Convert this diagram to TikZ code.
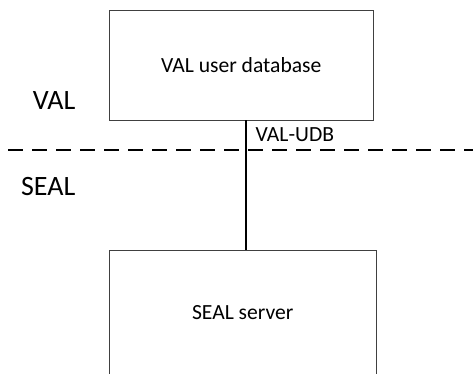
\documentclass[tikz,border=0pt]{standalone}
\usepackage{fontspec}
\setmainfont{Carlito}
\usetikzlibrary{positioning, calc}

\begin{document}
\begin{tikzpicture}[x=1pt, y=-1pt,
    box/.style={draw=black!75, line width=0.9pt, inner sep=0pt, font=\fontsize{21.6}{25}\selectfont},
    zone/.style={font=\fontsize{28}{32}\selectfont, anchor=east, inner sep=0pt}]
\useasboundingbox (0, 0) rectangle (473, 374);

\node [box, minimum width=263.5pt, minimum height=110pt] (udb) at (241.25, 65) {VAL user database};
\node [box, minimum width=266.5pt, minimum height=126pt] (server) at (242.75, 313) {SEAL server};

\node [zone] (val) at (75.5, 101) {VAL};
\node [zone] (seal) at (75.5, 187) {SEAL};

\coordinate (left) at (8, 150);
\coordinate (right) at (475, 150);
\draw [line width=1.5pt, dash pattern=on 15pt off 9pt] (left) -- (right);

\coordinate (link) at (246, 0);
\draw [line width=1.4pt] (udb.south -| link) -- (server.north -| link)
    node (udblabel) [pos=0.11, right=9pt, font=\fontsize{21.6}{25}\selectfont, inner sep=0pt] {VAL-UDB};

\end{tikzpicture}
\end{document}
